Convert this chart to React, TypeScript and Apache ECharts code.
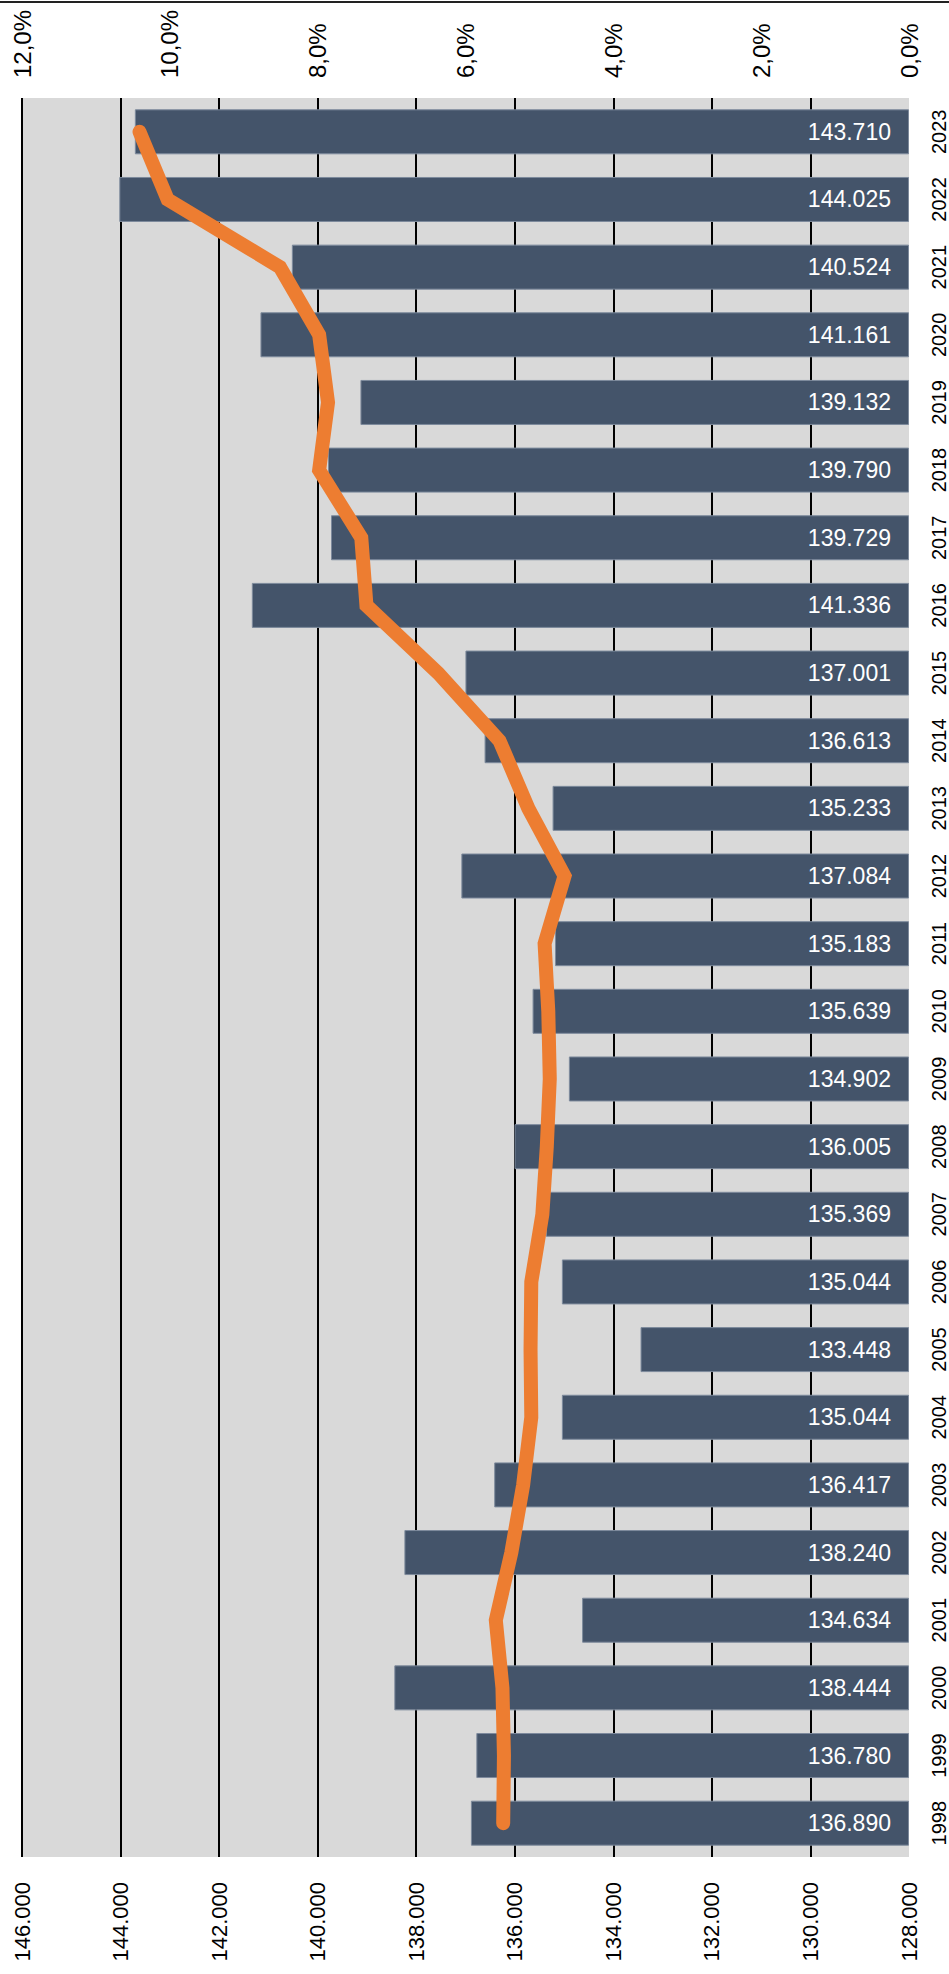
import React, { useEffect, useRef } from "react";
import * as echarts from "echarts";

const years = ["1998","1999","2000","2001","2002","2003","2004","2005","2006","2007","2008","2009","2010","2011","2012","2013","2014","2015","2016","2017","2018","2019","2020","2021","2022","2023"];
const barValues = [136.89,136.78,138.444,134.634,138.24,136.417,135.044,133.448,135.044,135.369,136.005,134.902,135.639,135.183,137.084,135.233,136.613,137.001,141.336,139.729,139.79,139.132,141.161,140.524,144.025,143.71];
const pctValues = [5.49,5.48,5.5,5.59,5.38,5.22,5.11,5.12,5.11,4.96,4.9,4.86,4.88,4.93,4.66,5.15,5.54,6.37,7.34,7.41,7.98,7.86,7.98,8.51,10.03,10.41];
const barTicks = { min: 128, max: 146, interval: 2 };
const pctTicks = { min: 0, max: 12, interval: 2 };

const FONT = "Liberation Sans, Arial, sans-serif";

export default function App() {
  const ref = useRef<HTMLDivElement>(null);
  useEffect(() => {
    if (!ref.current) return;
    const chart = echarts.init(ref.current, undefined, { renderer: "svg" });
    const nTicks = (barTicks.max - barTicks.min) / barTicks.interval + 1;
    const gridColors = Array.from({ length: nTicks }, (_, i) => (i === 0 ? "rgba(0,0,0,0)" : "#000000"));
    chart.setOption({
      animation: false,
      textStyle: { fontFamily: FONT },
      graphic: [
        { type: "line", shape: { x1: 0, y1: 2, x2: 949, y2: 2 }, style: { stroke: "#222", lineWidth: 2 } },
      ],
      grid: {
        left: 22,
        right: 40,
        top: 98,
        bottom: 117,
        show: true,
        backgroundColor: "#d9d9d9",
        borderWidth: 0,
        containLabel: false,
      },
      xAxis: [
        {
          type: "value",
          position: "bottom",
          min: barTicks.min,
          max: barTicks.max,
          interval: barTicks.interval,
          inverse: true,
          startValue: barTicks.min,
          axisLine: { show: false },
          axisTick: { show: false },
          splitLine: { show: true, lineStyle: { color: gridColors, width: 2 } },
          axisLabel: {
            rotate: 90,
            margin: 25,
            fontSize: 22,
            color: "#000",
            fontFamily: FONT,
            formatter: (v: number) => v.toFixed(3),
          },
        },
        {
          type: "value",
          position: "top",
          min: pctTicks.min,
          max: pctTicks.max,
          interval: pctTicks.interval,
          inverse: true,
          axisLine: { show: false },
          axisTick: { show: false },
          splitLine: { show: false },
          axisLabel: {
            rotate: -90,
            margin: 20,
            fontSize: 24,
            color: "#000",
            fontFamily: FONT,
            formatter: (v: number) => v.toFixed(1).replace(".", ",") + "%",
          },
        },
      ],
      yAxis: [
        {
          type: "category",
          position: "right",
          data: years,
          axisLine: { show: false },
          axisTick: { show: false },
          splitLine: { show: false },
          axisLabel: {
            rotate: 90,
            margin: 20,
            fontSize: 20,
            color: "#000",
            fontFamily: FONT,
          },
        },
      ],
      series: [
        {
          type: "bar",
          xAxisIndex: 0,
          yAxisIndex: 0,
          data: barValues,
          barWidth: 45,
          itemStyle: { color: "#44546a", borderColor: "#7d8a9c", borderWidth: 1 },
          label: {
            show: true,
            position: "insideRight",
            distance: 18,
            color: "#ffffff",
            fontSize: 23,
            fontFamily: FONT,
            formatter: (p: any) => Number(p.value).toFixed(3),
          },
          z: 2,
        },
        {
          type: "line",
          xAxisIndex: 1,
          yAxisIndex: 0,
          data: pctValues.map((v, i) => [v, years[i]]),
          symbol: "none",
          lineStyle: { color: "#ed7d31", width: 14, cap: "round", join: "miter" },
          z: 5,
        },
      ],
    });
    return () => chart.dispose();
  }, []);
  return (
    <div
      ref={ref}
      style={{ position: "absolute", left: 0, top: 0, width: 949, height: 1974 }}
    />
  );
}
